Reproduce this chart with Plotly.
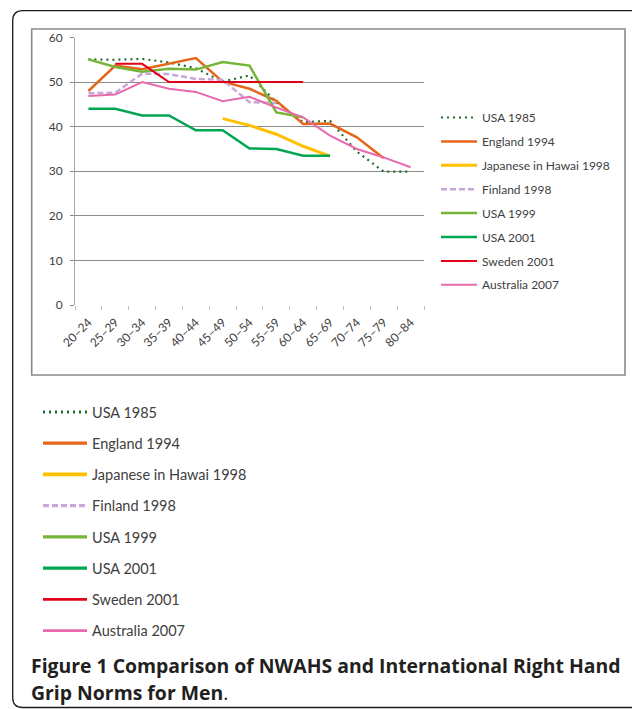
import plotly.graph_objects as go

W, H = 632, 709

age_groups = ["20–24", "25–29", "30–34", "35–39", "40–44", "45–49", "50–54",
              "55–59", "60–64", "65–69", "70–74", "75–79", "80–84"]

usa_1985 = [55.1, 55.0, 55.2, 54.4, 53.1, 50.1, 51.5, 45.5, 41.0, 41.3, 34.4, 29.9, 29.9]
england_1994 = [48.0, 53.7, 52.9, 54.1, 55.4, 50.1, 48.5, 45.8, 40.6, 40.7, 37.6, 32.9, None]
japanese_hawaii_1998 = [None, None, None, None, None, 41.8, 40.3, 38.3, 35.6, 33.4, None, None, None]
finland_1998 = [47.5, 47.6, 51.9, 51.8, 50.7, 50.5, 45.5, 45.3, None, None, None, None, None]
usa_1999 = [55.1, 53.4, 52.3, 53.0, 52.8, 54.5, 53.7, 43.2, 42.1, None, None, None, None]
usa_2001 = [44.0, 44.0, 42.5, 42.5, 39.2, 39.2, 35.1, 35.0, 33.5, 33.5, None, None, None]
sweden_2001 = [None, 54.1, 54.1, 50.0, 50.0, 50.0, 50.0, 50.0, 50.0, None, None, None, None]
australia_2007 = [46.9, 47.2, 50.0, 48.5, 47.8, 45.7, 46.7, 44.3, 42.1, 38.0, 35.0, 33.1, 30.9]

series_names = ["USA 1985", "England 1994", "Japanese in Hawai 1998", "Finland 1998",
                "USA 1999", "USA 2001", "Sweden 2001", "Australia 2007"]
series_values = [usa_1985, england_1994, japanese_hawaii_1998, finland_1998,
                 usa_1999, usa_2001, sweden_2001, australia_2007]
series_colors = ["#1d6e2f", "#e4661a", "#ffc000", "#c9a6d9",
                 "#74b53a", "#00a651", "#e2001a", "#e86aac"]
series_dash = ["2px,4px", "solid", "solid", "6px,3px", "solid", "solid", "solid", "solid"]
series_width = [2.2, 2.5, 3, 2.5, 2.5, 2.5, 2, 2]

y_ticks = [0, 10, 20, 30, 40, 50, 60]

CHART_FONT = "Lato"


def px(x):
    return x / W


def py(y):
    return 1 - y / H


fig = go.Figure()

for name, vals, col, dash, wd in zip(series_names, series_values, series_colors,
                                     series_dash, series_width):
    fig.add_trace(go.Scatter(
        x=age_groups, y=vals, mode="lines", name=name,
        line=dict(color=col, width=wd, dash=dash),
        connectgaps=False, legend="legend", legendgroup=name,
        hoverinfo="skip"))

# second (lower) legend: legend-only entries
for name, col, dash, wd in zip(series_names, series_colors, series_dash, series_width):
    fig.add_trace(go.Scatter(
        x=[None], y=[None], mode="lines", name=name,
        line=dict(color=col, width=wd + 0.8, dash=dash),
        legend="legend2", legendgroup=name + "_2", hoverinfo="skip"))

shapes = []
# outer rounded frame (left, top and bottom-left corner visible)
r = 10
x0, y0 = 12.7, 10.7
x1, y1 = 632, 707.5
path = (f"M {px(x1)},{py(y1)} L {px(x0 + r)},{py(y1)} "
        f"Q {px(x0)},{py(y1)} {px(x0)},{py(y1 - r)} "
        f"L {px(x0)},{py(y0 + r)} "
        f"Q {px(x0)},{py(y0)} {px(x0 + r)},{py(y0)} L {px(x1)},{py(y0)}")
shapes.append(dict(type="path", xref="paper", yref="paper", path=path,
                   line=dict(color="#1a1a1a", width=1.3)))
# inner chart box
shapes.append(dict(type="rect", xref="paper", yref="paper",
                   x0=px(31.7), x1=px(625), y0=py(375), y1=py(29),
                   line=dict(color="#8a8a8a", width=1.6), layer="below"))

annotations = [
    dict(text="<b>Figure 1 Comparison of NWAHS and International Right Hand</b>",
         x=px(29), y=py(665), xref="paper", yref="paper", xanchor="left",
         yanchor="middle", showarrow=False,
         font=dict(family="Open Sans", size=19.4, color="#231f20")),
    dict(text="<b>Grip Norms for Men</b>.",
         x=px(29), y=py(692), xref="paper", yref="paper", xanchor="left",
         yanchor="middle", showarrow=False,
         font=dict(family="Open Sans", size=19.4, color="#231f20")),
]

fig.update_layout(
    width=W, height=H, autosize=False,
    margin=dict(l=0, r=0, t=0, b=0, pad=0, autoexpand=False),
    paper_bgcolor="white", plot_bgcolor="white",
    font=dict(family=CHART_FONT, color="#404040"),
    shapes=shapes, annotations=annotations,
    xaxis=dict(domain=[px(75), px(424)], type="category",
               categoryorder="array", categoryarray=age_groups,
               range=[-0.5, 12.5], automargin=False,
               showgrid=False, showline=False, zeroline=False,
               ticks="outside", tickson="boundaries", ticklen=4,
               tickcolor="#bfbfbf", tickwidth=1,
               ticklabelstandoff=7,
               tickangle=-45, tickfont=dict(size=12, color="#404040")),
    yaxis=dict(domain=[py(305), py(37.5)], range=[0, 60], automargin=False,
               tickvals=y_ticks, showgrid=True, gridcolor="#8c8c8c", gridwidth=1,
               zeroline=True, zerolinecolor="white", zerolinewidth=1,
               showline=True, linecolor="#a6a6a6", linewidth=1,
               ticks="outside", ticklen=4, tickcolor="#8c8c8c",
               ticklabelstandoff=5,
               tickfont=dict(size=12, color="#404040")),
    legend=dict(x=px(436), y=py(103), xanchor="left", yanchor="top",
                font=dict(family=CHART_FONT, size=12, color="#404040"),
                traceorder="grouped", tracegroupgap=4.9, itemwidth=36,
                bgcolor="rgba(0,0,0,0)"),
    legend2=dict(x=px(38), y=py(396), xanchor="left", yanchor="top",
                 font=dict(family=CHART_FONT, size=14.5, color="#404040"),
                 traceorder="grouped", tracegroupgap=9.4, itemwidth=44,
                 bgcolor="rgba(0,0,0,0)"),
    showlegend=True,
)

fig.write_html(
    "out.html",
    config={"displayModeBar": False},
    post_script=("document.body.style.margin='0';"
                 "document.body.style.overflow='hidden';"
                 "document.documentElement.style.overflow='hidden';"),
)
